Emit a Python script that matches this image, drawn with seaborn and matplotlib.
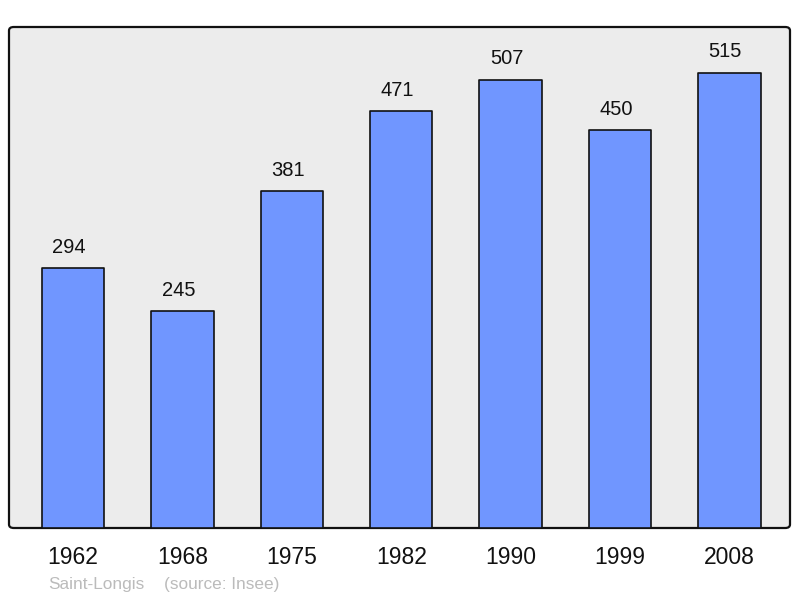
import matplotlib
matplotlib.use("Agg")
import matplotlib.pyplot as plt
import seaborn as sns
import pandas as pd
from matplotlib.patches import FancyBboxPatch

years = ["1962", "1968", "1975", "1982", "1990", "1999", "2008"]
population = [294, 245, 381, 471, 507, 450, 515]
place = "Saint-Longis"
source = "(source: Insee)"

sns.set_theme(style="white")
plt.rcParams['font.family'] = ['Liberation Sans', 'DejaVu Sans']

df = pd.DataFrame({"year": years, "pop": population})

W, H = 800, 598
fig = plt.figure(figsize=(W / 100, H / 100), dpi=100)
fig.patch.set_facecolor("white")
left, right, top, bottom = 9, 790, 27, 528

# rounded frame background
frame = FancyBboxPatch((left / W, (H - bottom) / H), (right - left) / W, (bottom - top) / H,
                       boxstyle="round,pad=0,rounding_size=0.006", transform=fig.transFigure,
                       facecolor="#ececec", edgecolor="#111111", linewidth=1.6, zorder=0)
fig.patches.append(frame)

ax = fig.add_axes([left / W, (H - bottom) / H, (right - left) / W, (bottom - top) / H])
ax.set_facecolor("none")
ax.set_zorder(2)

sns.barplot(data=df, x="year", y="pop", ax=ax, color="#7096ff", saturation=1,
            edgecolor="#111111", linewidth=1.2, width=0.57, zorder=2)
for p in ax.patches:
    p.set_joinstyle("round")

for p, v in zip(ax.patches, population):
    ax.annotate(str(v), (p.get_x() + p.get_width() / 2, p.get_height()),
                xytext=(-3, 15), textcoords="offset points", ha="center", va="center",
                fontsize=14.5, color="#111111")

ax.set_xlim(-0.585, 6.553)
ax.set_ylim(0, 566.5)
ax.set_xlabel("")
ax.set_ylabel("")
ax.set_yticks([])
ax.tick_params(axis="x", length=0, pad=13, labelsize=16.5, labelcolor="#111111")
for s in ax.spines.values():
    s.set_visible(False)

fig.text(48 / W, 1 - 584 / H, place, fontsize=12.4, color="#bbbbbb", ha="left", va="center")
fig.text(164 / W, 1 - 584 / H, source, fontsize=12.4, color="#bbbbbb", ha="left", va="center")

fig.savefig("out.png", dpi=100)
